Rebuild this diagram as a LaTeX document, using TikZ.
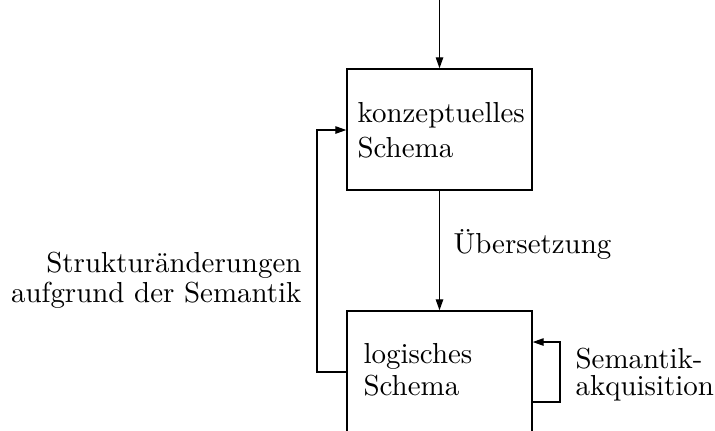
\documentclass[tikz,border=0pt]{standalone}
\usetikzlibrary{arrows.meta}
\begin{document}
\begin{tikzpicture}[x=0.3457pt,y=-0.3457pt,
  schemabox/.style={draw,line width=0.5pt,rectangle,minimum width=185*0.3457pt,minimum height=121*0.3457pt,inner sep=0pt},
  flow/.style={line width=0.4pt,-{Triangle[length=3.8pt,width=2.6pt]}},
  txt/.style={inner sep=0pt,font=\fontsize{10}{12}\selectfont}]
\clip (0,0) rectangle (715,430);
\useasboundingbox (0,0) rectangle (715,430);

% the two schema boxes (the lower one runs off the bottom edge)
\node[schemabox] (konz) at (439.5,129.5) {};
\node[schemabox] (logi) at (439.5,371.5) {};

% box texts
\node[txt,anchor=base west] (k1) at (357,122) {konzeptuelles};
\node[txt,anchor=base west] (k2) at (357,157) {Schema};
\node[txt,anchor=base west] (l1) at (363,363) {logisches};
\node[txt,anchor=base west] (l2) at (363,395) {Schema};

% incoming arrow from above
\coordinate (top) at (439.5,0);
\draw[flow] (top) -- (konz.north);

% translation step
\draw[flow] (konz.south) -- (logi.north);
\node[txt,anchor=base west] (ueb) at (453,253) {Übersetzung};

% feedback: structural changes due to semantics
\coordinate (fbA) at (317,372);
\coordinate (fbB) at (317,130);
\draw[flow] (logi.west |- fbA) -- (fbA) -- (fbB) -- (konz.west |- fbB);
\node[txt,anchor=base east] (s1) at (302,272) {Strukturänderungen};
\node[txt,anchor=base east] (s2) at (302,302) {aufgrund der Semantik};

% self loop: semantic acquisition
\coordinate (slA) at (560,402);
\coordinate (slB) at (560,342);
\draw[flow] (logi.east |- slA) -- (slA) -- (slB) -- (logi.east |- slB);
\node[txt,anchor=base west] (a1) at (575,368) {Semantik-};
\node[txt,anchor=base west] (a2) at (575,395) {akquisition};
\end{tikzpicture}
\end{document}
